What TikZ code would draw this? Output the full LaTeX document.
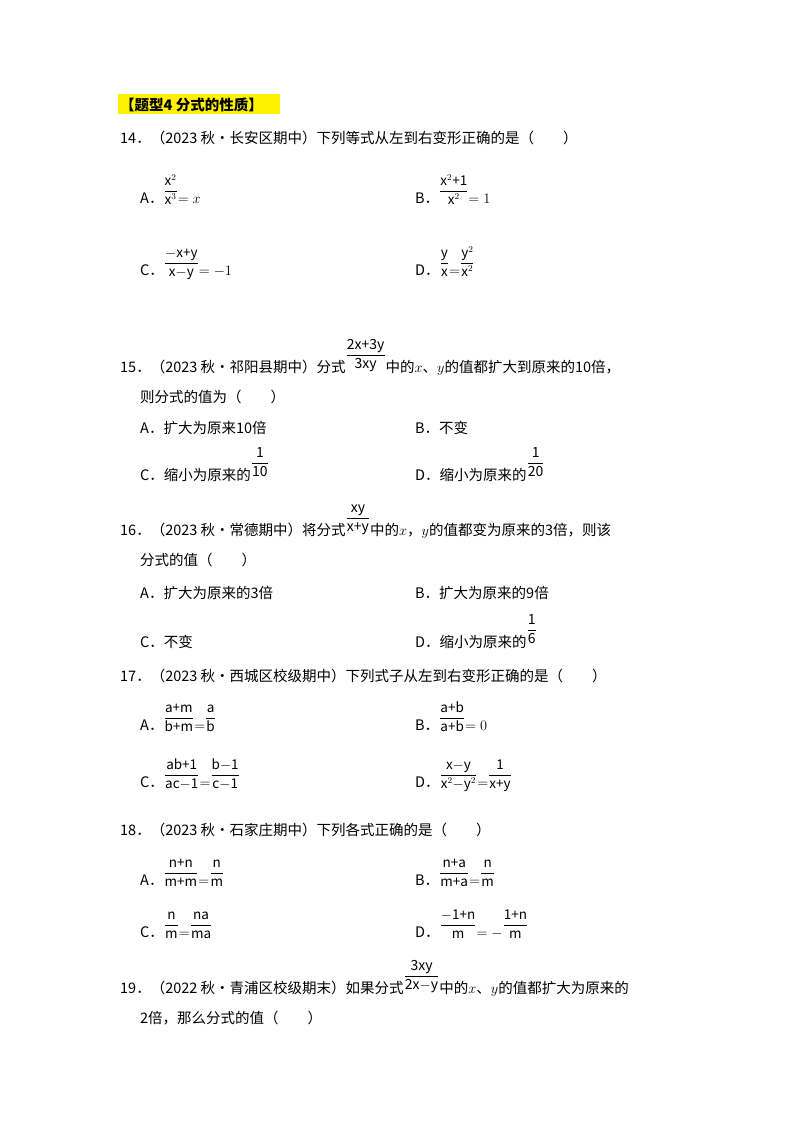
\documentclass[tikz,border=0pt]{standalone}
\usepackage{amsmath}
\usepackage{fontspec}
\setmainfont{Noto Sans CJK SC}
\newcommand{\fr}[2]{\raisebox{0.55em}{\fontsize{13.5}{13.5}\selectfont$\dfrac{\text{#1}}{\text{#2}}$}}
\newcommand{\frb}[2]{\raisebox{0.9em}{\fontsize{14}{14}\selectfont$\dfrac{\text{#1}}{\text{#2}}$}}
\begin{document}
\begin{tikzpicture}[x=1pt,y=-1pt,
  t/.style={anchor=base west,inner sep=0pt,font=\fontsize{14.5}{18}\selectfont}]
\useasboundingbox (0,0) rectangle (800,1132);
\fill[yellow] (118,94) rectangle (280,114);
\node[t,font=\fontsize{14.5}{18}\selectfont\bfseries] (h) at (120,110) {【题型4 分式的性质】};
\node[t] (q14) at (120,143) {14．（2023 秋•长安区期中）下列等式从左到右变形正确的是（　　）};
\node[t] (a14) at (140,203) {A．\fr{x$^2$}{x$^3$}$=x$};
\node[t] (b14) at (415,203) {B．\fr{x$^2$+1}{x$^2$}$=1$};
\node[t] (c14) at (140,275) {C．\fr{$-$x+y}{x$-$y}$=-1$};
\node[t] (d14) at (415,275) {D．\fr{y}{x}$=$\fr{y$^2$}{x$^2$}};
\node[t] (q15) at (120,372) {15．（2023 秋•祁阳县期中）分式\frb{2x+3y}{3xy}中的$x$、$y$的值都扩大到原来的10倍，};
\node[t] (q15b) at (140,402) {则分式的值为（　　）};
\node[t] (a15) at (140,433) {A．扩大为原来10倍};
\node[t] (b15) at (415,433) {B．不变};
\node[t] (c15) at (140,480) {C．缩小为原来的\frb{1}{10}};
\node[t] (d15) at (415,480) {D．缩小为原来的\frb{1}{20}};
\node[t] (q16) at (120,535) {16．（2023 秋•常德期中）将分式\frb{xy}{x+y}中的$x$，$y$的值都变为原来的3倍，则该};
\node[t] (q16b) at (140,565) {分式的值（　　）};
\node[t] (a16) at (140,598) {A．扩大为原来的3倍};
\node[t] (b16) at (415,598) {B．扩大为原来的9倍};
\node[t] (c16) at (140,647) {C．不变};
\node[t] (d16) at (415,647) {D．缩小为原来的\frb{1}{6}};
\node[t] (q17) at (120,681) {17．（2023 秋•西城区校级期中）下列式子从左到右变形正确的是（　　）};
\node[t] (a17) at (140,730) {A．\fr{a+m}{b+m}$=$\fr{a}{b}};
\node[t] (b17) at (415,730) {B．\fr{a+b}{a+b}$=0$};
\node[t] (c17) at (140,787) {C．\fr{ab+1}{ac$-$1}$=$\fr{b$-$1}{c$-$1}};
\node[t] (d17) at (415,787) {D．\fr{x$-$y}{x$^2-$y$^2$}$=$\fr{1}{x+y}};
\node[t] (q18) at (120,835) {18．（2023 秋•石家庄期中）下列各式正确的是（　　）};
\node[t] (a18) at (140,885) {A．\fr{n+n}{m+m}$=$\fr{n}{m}};
\node[t] (b18) at (415,885) {B．\fr{n+a}{m+a}$=$\fr{n}{m}};
\node[t] (c18) at (140,937) {C．\fr{n}{m}$=$\fr{na}{ma}};
\node[t] (d18) at (415,937) {D．\fr{$-$1+n}{m}$=-$\fr{1+n}{m}};
\node[t] (q19) at (120,993) {19．（2022 秋•青浦区校级期末）如果分式\frb{3xy}{2x$-$y}中的$x$、$y$的值都扩大为原来的};
\node[t] (q19b) at (140,1023) {2倍，那么分式的值（　　）};
\end{tikzpicture}
\end{document}
